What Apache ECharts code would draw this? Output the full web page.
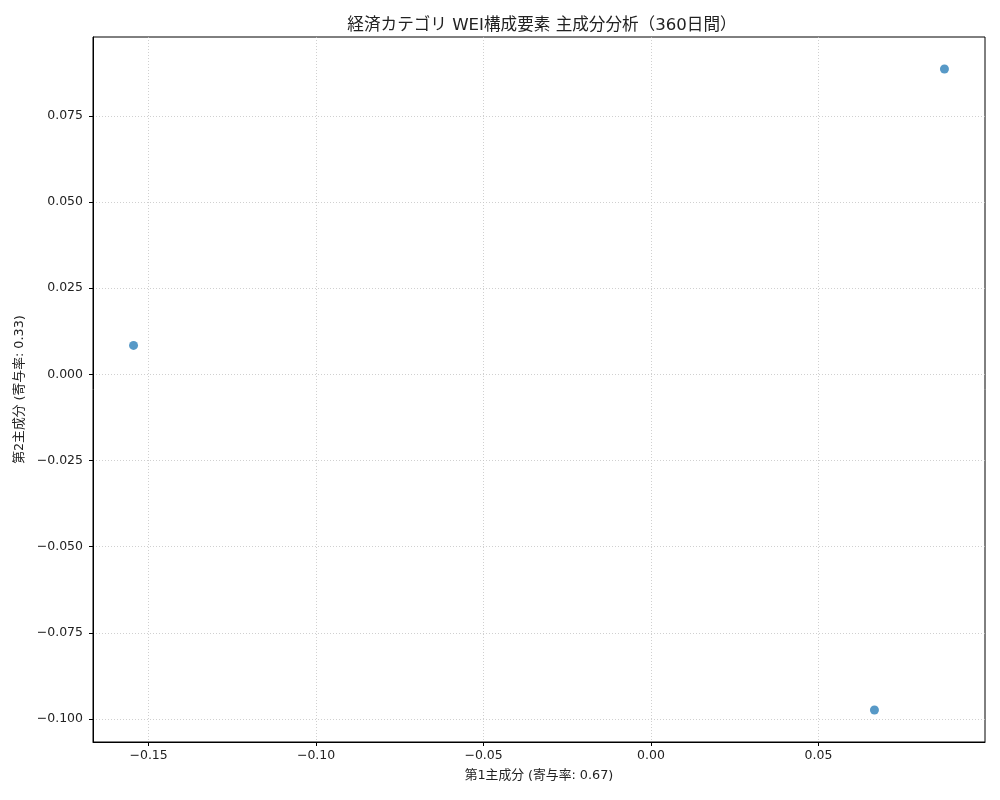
<!DOCTYPE html>
<html>
<head>
<meta charset="utf-8">
<script src="https://cdn.jsdelivr.net/npm/echarts@6/dist/echarts.min.js"></script>
<style>
  html, body { margin: 0; padding: 0; background: #fff; }
  #main { width: 1000px; height: 800px; }
</style>
</head>
<body>
<div id="main"></div>
<script>
// PCA scores of the WEI components (PC1, PC2)
const pc1 = [-0.1545, 0.0876, 0.0667];
const pc2 = [0.0084, 0.0886, -0.0974];
const xTicks = [-0.15, -0.10, -0.05, 0.00, 0.05];
const yTicks = [-0.100, -0.075, -0.050, -0.025, 0.000, 0.025, 0.050, 0.075];

const FONT = '"DejaVu Sans", "Noto Sans CJK JP", sans-serif';

function fmt(v, d) {
    const s = Math.abs(v).toFixed(d);
    return (v < -1e-9 ? '\u2212' : '') + s;
}

// matplotlib style 5% margins around the data
function padded(arr) {
    const lo = Math.min(...arr), hi = Math.max(...arr);
    const m = (hi - lo) * 0.05;
    return [lo - m, hi + m];
}
const [xMin, xMax] = padded(pc1);
const [yMin, yMax] = padded(pc2);

const chart = echarts.init(document.getElementById('main'));

function axisCommon(ticks, digits, margin) {
    return {
        type: 'value',
        axisLine: { show: true, onZero: false, lineStyle: { color: '#000', width: 1 } },
        axisTick: { show: true, length: 4, lineStyle: { color: '#000' }, customValues: ticks },
        axisLabel: {
            color: '#222', fontSize: 12.5, fontFamily: FONT, margin: margin,
            customValues: ticks,
            formatter: v => fmt(v, digits)
        },
        splitLine: {
            show: true, customValues: ticks,
            lineStyle: { color: '#c4c4c4', type: [1, 2], width: 0.8 }
        },
        nameTextStyle: { color: '#222', fontSize: 12.8, fontFamily: FONT }
    };
}

const option = {
    backgroundColor: '#fff',
    animation: false,
    title: {
        text: '経済カテゴリ WEI構成要素 主成分分析（360日間）',
        left: 537,
        textAlign: 'center',
        top: 12,
        textStyle: { color: '#222', fontSize: 16.6, fontWeight: 'normal', fontFamily: FONT }
    },
    grid: {
        left: 93, right: 15, top: 37, bottom: 58,
        show: true, borderColor: '#000', borderWidth: 1, backgroundColor: 'transparent'
    },
    xAxis: Object.assign(axisCommon(xTicks, 2, 7), {
        min: xMin, max: xMax,
        name: '第1主成分 (寄与率: 0.67)',
        nameLocation: 'middle',
        nameGap: 27
    }),
    yAxis: Object.assign(axisCommon(yTicks, 3, 10), {
        min: yMin, max: yMax,
        name: '第2主成分 (寄与率: 0.33)',
        nameLocation: 'middle',
        nameGap: 63
    }),
    series: [{
        type: 'scatter',
        data: pc1.map((x, i) => [x, pc2[i]]),
        symbolSize: 9,
        itemStyle: { color: '#1f77b4', opacity: 0.75 }
    }]
};

chart.setOption(option);
</script>
</body>
</html>
